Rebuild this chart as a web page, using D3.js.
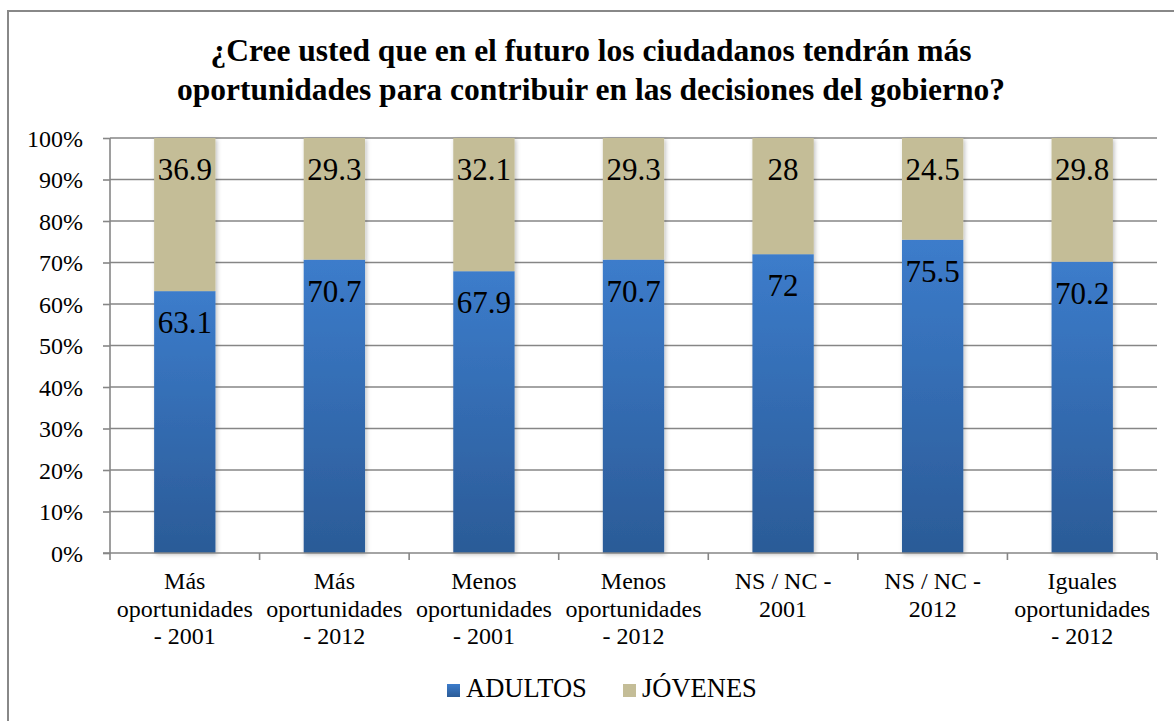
<!DOCTYPE html>
<html>
<head>
<meta charset="utf-8">
<script src="https://cdn.jsdelivr.net/npm/d3@7"></script>
<style>
  body { margin: 0; background: #fff; }
  svg { display: block; }
  svg text { font-family: "Liberation Serif", "Tinos", "Times New Roman", "Nimbus Roman", "DejaVu Serif", serif; }
</style>
</head>
<body>
<svg id="chart" width="1174" height="721"></svg>
<script>
let categorias = [
    ["Más", "oportunidades", "- 2001"],
    ["Más", "oportunidades", "- 2012"],
    ["Menos", "oportunidades", "- 2001"],
    ["Menos", "oportunidades", "- 2012"],
    ["NS / NC -", "2001"],
    ["NS / NC -", "2012"],
    ["Iguales", "oportunidades", "- 2012"]
];
let adultos = [63.1, 70.7, 67.9, 70.7, 72, 75.5, 70.2];
let jovenes = [36.9, 29.3, 32.1, 29.3, 28, 24.5, 29.8];
let series = ["ADULTOS", "JÓVENES"];
let ticksY = [0, 10, 20, 30, 40, 50, 60, 70, 80, 90, 100];

let svg = d3.select("#chart");

let plotLeft = 110, plotRight = 1157, plotTop = 138, plotBottom = 553;

// borde exterior
svg.append("rect")
    .attr("x", 8).attr("y", 11)
    .attr("width", 1200).attr("height", 800)
    .attr("fill", "none").attr("stroke", "#888").attr("stroke-width", 2);

// titulo
let titulo = svg.append("text")
    .attr("text-anchor", "middle")
    .style("font-weight", "bold")
    .style("font-size", "31.5px");
titulo.append("tspan").attr("x", 591).attr("y", 61)
    .text("¿Cree usted que en el futuro los ciudadanos tendrán más");
titulo.append("tspan").attr("x", 591).attr("y", 100)
    .text("oportunidades para contribuir en las decisiones del gobierno?");

let defs = svg.append("defs");
let grad = defs.append("linearGradient").attr("id", "azul")
    .attr("x1", 0).attr("y1", 0).attr("x2", 0).attr("y2", 1);
grad.append("stop").attr("offset", "0%").attr("stop-color", "#3c7ccb");
grad.append("stop").attr("offset", "100%").attr("stop-color", "#2b5b97");

let sombra = defs.append("filter").attr("id", "sombra")
    .attr("x", "-20%").attr("y", "-5%").attr("width", "140%").attr("height", "110%");
sombra.append("feDropShadow").attr("dx", 1.5).attr("dy", 1.5)
    .attr("stdDeviation", 2).attr("flood-color", "#000").attr("flood-opacity", 0.25);

let xScale = d3.scaleBand()
    .domain(d3.range(categorias.length))
    .range([plotLeft, plotRight])
    .paddingInner(0.59)
    .paddingOuter(0.295);

let yScale = d3.scaleLinear().domain([0, 100]).range([plotBottom, plotTop]);

// lineas de la cuadricula
svg.append("g").selectAll("line")
    .data(ticksY.filter(d => d > 0))
    .join("line")
    .attr("x1", plotLeft).attr("x2", plotRight)
    .attr("y1", d => yScale(d)).attr("y2", d => yScale(d))
    .attr("stroke", "#868686").attr("stroke-width", 1.6);

// eje y
let yAxis = d3.axisLeft(yScale)
    .tickValues(ticksY)
    .tickFormat(d => d + "%")
    .tickSize(7)
    .tickPadding(20);
let yAxisGroup = svg.append("g")
    .attr("transform", `translate(${plotLeft},0)`)
    .call(yAxis)
    .attr("font-family", null);
yAxisGroup.select(".domain").attr("stroke", "#868686").attr("stroke-width", 1.6)
    .attr("d", `M0,${plotTop}V${plotBottom}`);
yAxisGroup.selectAll(".tick line").attr("stroke", "#868686").attr("stroke-width", 1.6);
yAxisGroup.selectAll(".tick text")
    .style("font-size", "24px")
    .attr("fill", "#000").attr("dy", "0.34em");

// barras apiladas
let filas = categorias.map((c, i) => ({ i: i, ADULTOS: adultos[i], "JÓVENES": jovenes[i] }));
let stack = d3.stack().keys(series)(filas);
let colores = { "ADULTOS": "url(#azul)", "JÓVENES": "#c4bd97" };

let barras = svg.append("g").attr("filter", "url(#sombra)");
stack.forEach(s => {
    barras.selectAll(null)
        .data(s)
        .enter()
        .append("rect")
        .attr("x", d => xScale(d.data.i))
        .attr("width", xScale.bandwidth())
        .attr("y", d => yScale(d[1]))
        .attr("height", d => yScale(d[0]) - yScale(d[1]))
        .attr("fill", colores[s.key]);
});

// etiquetas de valores
stack.forEach(s => {
    svg.append("g").selectAll("text")
        .data(s)
        .join("text")
        .attr("x", d => xScale(d.data.i) + xScale.bandwidth() / 2)
        .attr("y", d => yScale(d[1]) + 42)
        .attr("text-anchor", "middle")
        .style("font-size", "31px")
        .text(d => d.data[s.key]);
});

// eje x
let xAxisLine = svg.append("g");
xAxisLine.append("line")
    .attr("x1", plotLeft - 7).attr("x2", plotRight)
    .attr("y1", plotBottom).attr("y2", plotBottom)
    .attr("stroke", "#868686").attr("stroke-width", 1.6);
let bordes = d3.range(categorias.length + 1).map(i => plotLeft + i * xScale.step());
xAxisLine.selectAll(".tk")
    .data(bordes)
    .join("line")
    .attr("x1", d => d).attr("x2", d => d)
    .attr("y1", plotBottom).attr("y2", plotBottom + 7)
    .attr("stroke", "#868686").attr("stroke-width", 1.6);

let etiquetas = svg.append("g").selectAll("text")
    .data(categorias)
    .join("text")
    .attr("text-anchor", "middle")
    .style("font-size", "24px");
etiquetas.each(function (lineas, i) {
    let cx = xScale(i) + xScale.bandwidth() / 2;
    d3.select(this).selectAll("tspan")
        .data(lineas)
        .join("tspan")
        .attr("x", cx)
        .attr("y", (d, j) => 589 + j * 27.5)
        .text(d => d);
});

// leyenda
let leyenda = svg.append("g");
let legX = [447, 623];
series.forEach((s, i) => {
    leyenda.append("rect")
        .attr("x", legX[i]).attr("y", 684)
        .attr("width", 13).attr("height", 13)
        .attr("fill", colores[s]);
    leyenda.append("text")
        .attr("x", legX[i] + 19).attr("y", 697)
        .style("font-size", "26.5px")
        .text(s);
});
</script>
</body>
</html>
